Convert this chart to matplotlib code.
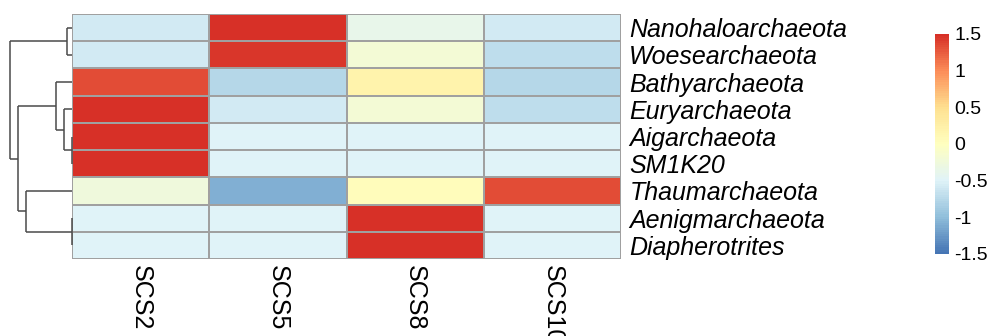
import numpy as np
import matplotlib.pyplot as plt
from matplotlib.colors import LinearSegmentedColormap, Normalize
from matplotlib import cm

plt.rcParams['font.family'] = ['Liberation Sans', 'DejaVu Sans']

# row-scaled relative abundance (z-scores)
phyla = ['Nanohaloarchaeota', 'Woesearchaeota', 'Bathyarchaeota', 'Euryarchaeota',
         'Aigarchaeota', 'SM1K20', 'Thaumarchaeota', 'Aenigmarchaeota', 'Diapherotrites']
samples = ['SCS2', 'SCS5', 'SCS8', 'SCS10']
scs2 = [-0.58, -0.58, 1.34, 1.48, 1.5, 1.5, -0.26, -0.5, -0.5]
scs5 = [1.5, 1.45, -0.78, -0.6, -0.5, -0.5, -1.09, -0.5, -0.5]
scs8 = [-0.37, -0.19, 0.21, -0.19, -0.5, -0.5, 0.03, 1.5, 1.5]
scs10 = [-0.6, -0.72, -0.78, -0.72, -0.5, -0.5, 1.34, -0.5, -0.5]

# row dendrogram: (left, right, height); leaves are row indices, merged nodes are 'n<k>'
merges = [(0, 1, 5), (4, 5, 0), (7, 8, 0), (3, 'n1', 8), (2, 'n3', 16),
          (6, 'n2', 46), ('n4', 'n5', 54), ('n0', 'n6', 62)]

cbar_ticks = [-1.5, -1, -0.5, 0, 0.5, 1, 1.5]
cbar_labels = ['-1.5', '-1', '-0.5', '0', '0.5', '1', '1.5']

vals = np.column_stack([scs2, scs5, scs8, scs10])
palette = ['#4575B4', '#91BFDB', '#E0F3F8', '#FFFFBF', '#FEE090', '#FC8D59', '#D73027']
cmap = LinearSegmentedColormap.from_list('rdylbu_r', palette, N=100)
norm = Normalize(vmin=-1.5, vmax=1.5)

W, H = 989, 336
fig = plt.figure(figsize=(W / 100, H / 100), dpi=100)


def px_axes(l, t, r, b):
    return fig.add_axes([l / W, 1 - b / H, (r - l) / W, (b - t) / H])


# heatmap
ax = px_axes(72, 14, 621, 259)
ax.pcolormesh(vals, cmap=cmap, norm=norm, edgecolors='#A0A0A0', linewidth=1.1)
ax.set_xlim(0, len(samples))
ax.set_ylim(len(phyla), 0)
for s in ax.spines.values():
    s.set_visible(False)
ax.yaxis.tick_right()
ax.set_yticks(np.arange(len(phyla)) + 0.5)
ax.set_yticklabels(phyla, fontsize=18, style='italic')
ax.set_xticks(np.arange(len(samples)) + 0.5)
ax.set_xticklabels(samples, fontsize=18, rotation=-90)
ax.tick_params(axis='y', length=0, pad=6)
ax.tick_params(axis='x', length=0, pad=4)

# dendrogram
dax = px_axes(10, 14, 72, 259)
pos = {i: i + 0.5 for i in range(len(phyla))}
hgt = {i: 0 for i in range(len(phyla))}
for k, (a, b, h) in enumerate(merges):
    for c in (a, b):
        dax.plot([hgt[c], h], [pos[c], pos[c]], color='#4A4A4A', lw=1.1,
                 clip_on=False, solid_capstyle='butt')
    dax.plot([h, h], [pos[a], pos[b]], color='#4A4A4A', lw=1.1,
             clip_on=False, solid_capstyle='butt')
    pos['n%d' % k] = (pos[a] + pos[b]) / 2
    hgt['n%d' % k] = h
dax.set_xlim(max(m[2] for m in merges), 0)
dax.set_ylim(len(phyla), 0)
dax.axis('off')

# colour legend
cax = px_axes(935, 34, 949, 254)
cb = fig.colorbar(cm.ScalarMappable(norm=norm, cmap=cmap), cax=cax, ticks=cbar_ticks)
cb.ax.set_yticklabels(cbar_labels, fontsize=14)
cb.outline.set_visible(False)
cb.ax.tick_params(length=0, pad=4)

fig.savefig('out.png', dpi=100, facecolor='white')
